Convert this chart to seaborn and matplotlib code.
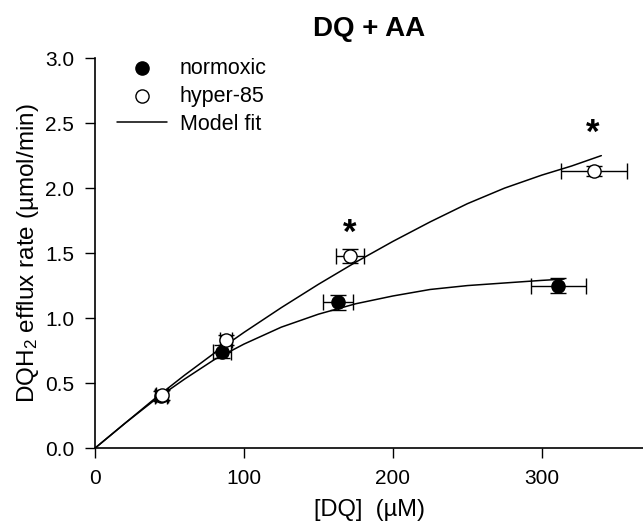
import matplotlib
matplotlib.use("Agg")
import matplotlib.pyplot as plt
import seaborn as sns
import numpy as np
import pandas as pd

sns.set_style("ticks")
plt.rcParams['font.family'] = ['Liberation Sans', 'DejaVu Sans']
plt.rcParams['mathtext.fontset'] = 'custom'
plt.rcParams['mathtext.rm'] = 'Liberation Sans'
plt.rcParams['mathtext.it'] = 'Liberation Sans:italic'
plt.rcParams['text.color'] = 'black'
plt.rcParams['axes.labelcolor'] = 'black'
plt.rcParams['xtick.color'] = 'black'
plt.rcParams['ytick.color'] = 'black'

# Data points
norm_x = [44, 85, 163, 311]
norm_y = [0.40, 0.74, 1.12, 1.25]
norm_xerr = [4, 6, 10, 18.5]
norm_yerr = [0.04, 0.05, 0.06, 0.055]

hyp_x = [45, 88, 171, 335]
hyp_y = [0.41, 0.83, 1.48, 2.13]
hyp_xerr = [4, 4, 9.5, 22]
hyp_yerr = [0.04, 0.04, 0.055, 0.04]

# Model fit curves
fit_norm_x = [0, 20, 40, 60, 80, 100, 125, 150, 175, 200, 225, 250, 275, 300, 315]
fit_norm_y = [0, 0.19, 0.37, 0.53, 0.68, 0.80, 0.93, 1.03, 1.11, 1.17, 1.22, 1.25, 1.27, 1.29, 1.30]
fit_hyp_x = [0, 20, 40, 60, 80, 100, 125, 150, 175, 200, 225, 250, 275, 300, 320, 340]
fit_hyp_y = [0, 0.19, 0.38, 0.56, 0.73, 0.89, 1.08, 1.26, 1.43, 1.59, 1.74, 1.88, 2.00, 2.10, 2.17, 2.25]

star_x = [171, 334]
star_y = [1.65, 2.42]

xticks = [0, 100, 200, 300]
yticks = [0.0, 0.5, 1.0, 1.5, 2.0, 2.5, 3.0]

fig = plt.figure(figsize=(6.43, 5.24), dpi=100)
ax = fig.add_axes([0.148, 0.145, 0.852, 0.744])

sns.lineplot(x=fit_norm_x, y=fit_norm_y, ax=ax, color='black', lw=1.1, label='Model fit', sort=False)
sns.lineplot(x=fit_hyp_x, y=fit_hyp_y, ax=ax, color='black', lw=1.1, sort=False)

ax.errorbar(norm_x, norm_y, xerr=norm_xerr, yerr=norm_yerr, fmt='none', ecolor='black',
            elinewidth=1.0, capsize=6, capthick=1.0, zorder=3)
ax.errorbar(hyp_x, hyp_y, xerr=hyp_xerr, yerr=hyp_yerr, fmt='none', ecolor='black',
            elinewidth=1.0, capsize=6, capthick=1.0, zorder=3)

sns.scatterplot(x=norm_x, y=norm_y, ax=ax, color='black', edgecolor='black', s=90,
                linewidth=1.0, label='normoxic', zorder=4)
sns.scatterplot(x=hyp_x, y=hyp_y, ax=ax, color='white', edgecolor='black', s=90,
                linewidth=1.0, label='hyper-85', zorder=5)

for sx, sy in zip(star_x, star_y):
    ax.text(sx, sy, '*', ha='center', va='center', fontsize=25, fontweight='bold', color='black')

ax.set_xlim(0, 368)
ax.set_ylim(0, 3.0)
ax.set_xticks(xticks)
ax.set_yticks(yticks)
ax.set_yticklabels([f"{v:.1f}" for v in yticks])
ax.tick_params(axis='both', direction='out', length=7, width=1, labelsize=15, colors='black')
ax.tick_params(axis='x', pad=8)
ax.tick_params(axis='y', pad=8)
for s in ['left', 'bottom']:
    ax.spines[s].set_linewidth(1.2)
    ax.spines[s].set_color('black')
sns.despine(ax=ax)

ax.set_xlabel('[DQ]  (\u00b5M)', fontsize=17, labelpad=8)
ax.set_ylabel('DQH$_2$ efflux rate (\u00b5mol/min)', fontsize=17.5, labelpad=3)
ax.set_title('DQ + AA', fontsize=20, fontweight='bold', pad=16)

handles, labels = ax.get_legend_handles_labels()
order = [labels.index('normoxic'), labels.index('hyper-85'), labels.index('Model fit')]
ax.legend([handles[i] for i in order], [labels[i] for i in order], loc='upper left',
          bbox_to_anchor=(0.005, 1.05), frameon=False, fontsize=15.5, handlelength=2.3,
          handletextpad=0.6, labelspacing=0.32)

fig.savefig('out.png', dpi=100)
